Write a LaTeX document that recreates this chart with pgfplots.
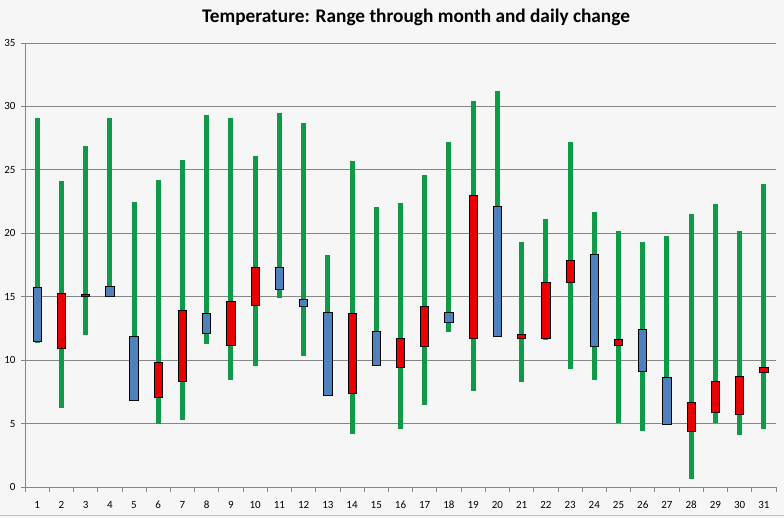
\documentclass[border=0pt]{standalone}
\usepackage{pgfplots}
\pgfplotsset{compat=1.18}
\usepgfplotslibrary{statistics}
\usepackage{fontspec}
\setmainfont{Carlito}
\definecolor{bgc}{RGB}{246,246,246}
\definecolor{ggreen}{RGB}{14,154,70}
\definecolor{bblue}{RGB}{79,129,189}
\definecolor{rred}{RGB}{232,0,0}
\definecolor{gridc}{RGB}{134,134,134}
% day, low, box bottom, box top, high, colour
\newcommand{\candle}[6]{\addplot[fill=#6, draw=black, line width=0.8pt,
  boxplot prepared={draw direction=y, draw position=#1, lower whisker=#2, lower quartile=#3,
  median=#3, upper quartile=#4, upper whisker=#5}] coordinates {};}
\begin{document}
\begin{tikzpicture}
\path[use as bounding box, fill=bgc] (-25pt,-31pt) rectangle (759pt,487pt);
\draw[gray!50, line width=1pt] (-25pt,-29pt) -- (759pt,-29pt);
\begin{axis}[
  at={(0pt,0pt)}, anchor=south west,
  scale only axis, width=751pt, height=444pt,
  xmin=0.5, xmax=31.5, ymin=0, ymax=35,
  axis x line*=bottom, axis y line*=left,
  axis line style={-, draw=gridc, line width=0.8pt},
  xtick={1,...,31}, major x tick style={draw=none},
  minor xtick={0.5,1.5,...,31.5},
  minor x tick style={draw=gridc, line width=0.8pt},
  ytick={0,5,...,35},
  ytick style={draw=gridc, line width=0.8pt},
  tick align=outside, major tick length=4pt, minor tick length=5pt,
  ymajorgrids, grid style={draw=gridc, line width=0.8pt},
  tick label style={font=\fontsize{11}{12}\selectfont, text=black},
  x tick label style={anchor=base, yshift=-18pt},
  y tick label style={xshift=-2pt},
  /pgf/number format/assume math mode=true,
  boxplot/draw direction=y,
  boxplot/box extend=0.34, boxplot/whisker extend=0,
  boxplot/every whisker/.style={draw=ggreen, line width=5pt, line cap=butt},
  boxplot/every median/.style={draw=none},
  clip=false,
]
\candle{1}{11.35}{11.5}{15.7}{29.1}{bblue}
\candle{2}{6.2}{10.9}{15.3}{24.1}{rred}
\candle{3}{12.0}{15.0}{15.2}{26.9}{rred}
\candle{4}{15.0}{15.0}{15.8}{29.1}{bblue}
\candle{5}{6.8}{6.8}{11.9}{22.5}{bblue}
\candle{6}{5.0}{7.1}{9.85}{24.2}{rred}
\candle{7}{5.25}{8.3}{13.95}{25.8}{rred}
\candle{8}{11.3}{12.1}{13.7}{29.3}{bblue}
\candle{9}{8.4}{11.2}{14.6}{29.1}{rred}
\candle{10}{9.55}{14.35}{17.3}{26.1}{rred}
\candle{11}{14.9}{15.6}{17.3}{29.5}{bblue}
\candle{12}{10.3}{14.2}{14.8}{28.7}{bblue}
\candle{13}{7.2}{7.2}{13.8}{18.3}{bblue}
\candle{14}{4.2}{7.4}{13.7}{25.7}{rred}
\candle{15}{9.55}{9.55}{12.3}{22.1}{bblue}
\candle{16}{4.6}{9.45}{11.75}{22.4}{rred}
\candle{17}{6.5}{11.1}{14.2}{24.6}{rred}
\candle{18}{12.2}{13.0}{13.8}{27.2}{bblue}
\candle{19}{7.6}{11.7}{23.0}{30.4}{rred}
\candle{20}{11.8}{11.9}{22.15}{31.2}{bblue}
\candle{21}{8.25}{11.7}{12.0}{19.3}{rred}
\candle{22}{11.6}{11.75}{16.1}{21.1}{rred}
\candle{23}{9.3}{16.1}{17.9}{27.2}{rred}
\candle{24}{8.4}{11.1}{18.3}{21.65}{bblue}
\candle{25}{5.05}{11.2}{11.6}{20.15}{rred}
\candle{26}{4.4}{9.1}{12.4}{19.3}{bblue}
\candle{27}{4.9}{4.9}{8.6}{19.75}{bblue}
\candle{28}{0.65}{4.35}{6.7}{21.5}{rred}
\candle{29}{5.05}{5.85}{8.3}{22.3}{rred}
\candle{30}{4.1}{5.75}{8.75}{20.15}{rred}
\candle{31}{4.6}{9.0}{9.45}{23.9}{rred}
\end{axis}
\node[anchor=base, font=\bfseries\fontsize{19.3}{22}\selectfont] at (391pt,464pt)
  {Temperature: Range through month and daily change};
\end{tikzpicture}
\end{document}
